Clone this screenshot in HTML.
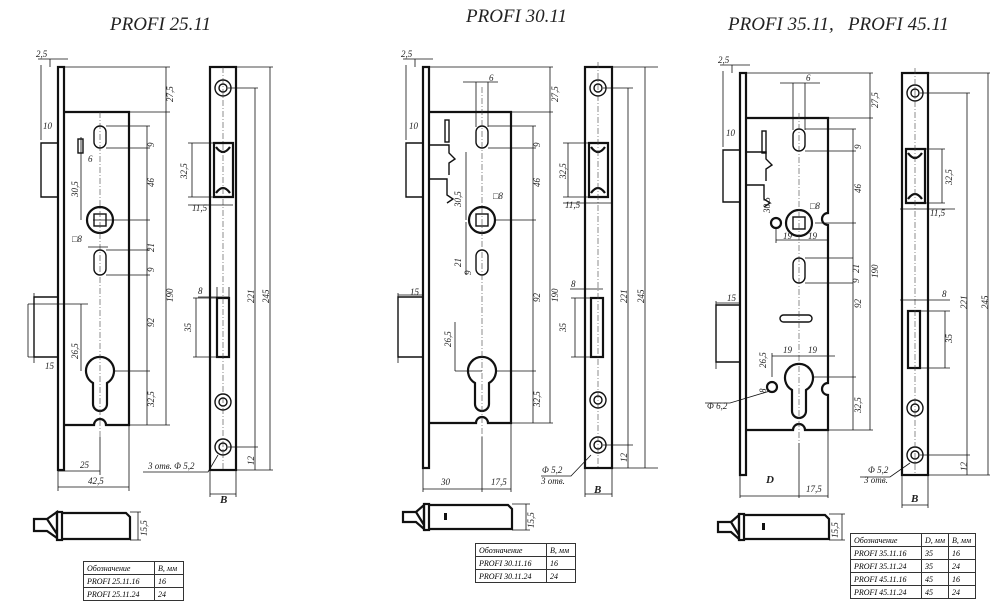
<!DOCTYPE html>
<html><head><meta charset="utf-8"><style>
html,body{margin:0;padding:0;background:#fff;}
svg{display:block;font-family:"Liberation Serif","Noto Serif CJK SC",serif;font-style:italic;}
.t{stroke:#111;stroke-width:.8;fill:none}
.k{stroke:#111;stroke-width:2.2;fill:none}
.m{stroke:#111;stroke-width:1.4;fill:none}
.c{stroke:#444;stroke-width:.6;stroke-dasharray:6 2 1 2;fill:none}
text{fill:#222;font-size:9px}
.ti{font-size:19px;fill:#222}
td{border:1px solid #333;padding:0 3px;height:12px}
</style></head><body>
<svg width="1000" height="607" viewBox="0 0 1000 607">
<text class="ti" x="110" y="30">PROFI 25.11</text>
<text class="ti" x="466" y="22">PROFI 30.11</text>
<text class="ti" x="728" y="30">PROFI 35.11,&#160;&#160;&#160;PROFI 45.11</text>

<!-- LOCK 1 -->
<g transform="translate(58,67)">
<rect class="k" x="0" y="0" width="6" height="403"/>
<path class="k" d="M6,45 H71 V358 H48 A6,6 0 0 0 36,358 H6"/>
<path class="m" d="M0,76 H-17 V130 H0 M-17,76 H-8 M-17,130 H-8"/>
<path class="m" d="M0,230 H-24 V290 H0"/>
<rect class="m" x="36" y="59" width="12" height="22" rx="6"/>
<rect class="m" x="20" y="72" width="5" height="14"/>
<circle class="k" cx="42" cy="153" r="13"/><rect class="m" x="36" y="147" width="12" height="12"/>
<rect class="m" x="36" y="183" width="12" height="25" rx="6"/>
<path class="k" d="M35,316 A14,14 0 1 1 49,316 L49,337 A7,7 0 0 1 35,337 Z"/>
<line class="c" x1="42" y1="45" x2="42" y2="370"/>
<path class="t" d="M48,59 H92 M48,81 H92 M35,153 H92 M48,183 H92 M48,208 H92 M56,304 H92 M71,358 H112 M6,0 H112 M71,45 H112 M89,59 V358 M108,0 V358"/>
<path class="t" d="M-17,73 V-2 M-24,226 V296 M-30,290 H0 M-30,237 H30 M-30,237 V290"/>
<path class="t" d="M-8,0 V-8 M6,-8 H-20 M0,-8 H10"/>
<text x="-22" y="-10">2,5</text>
<text x="-15" y="62">10</text>
<text x="-13" y="302">15</text>
<text x="22" y="401">25</text><text x="30" y="417">42,5</text>
<path class="t" d="M0,403 V424 M42,370 V408 M71,358 V424 M0,404 H42 M0,420 H71"/>
<path class="t" d="M23,70 V153 M23,237 V304 M30,180 H50"/>
<text x="14" y="175">□8</text>
<text x="30" y="95">6</text>
<g transform="rotate(-90)">
<text x="-80" y="96">9</text><text x="-120" y="96">46</text><text x="-185" y="96">21</text>
<text x="-205" y="96">9</text><text x="-260" y="96">92</text><text x="-340" y="96">32,5</text>
<text x="-235" y="115">190</text><text x="-35" y="115">27,5</text>
<text x="-130" y="20">30,5</text><text x="-292" y="20">26,5</text>
</g>
<!-- strike -->
<rect class="k" x="152" y="0" width="26" height="403"/>
<circle class="m" cx="165" cy="21" r="8"/><circle class="m" cx="165" cy="21" r="4"/>
<circle class="m" cx="165" cy="335" r="8"/><circle class="m" cx="165" cy="335" r="4"/>
<circle class="m" cx="165" cy="380" r="8"/><circle class="m" cx="165" cy="380" r="4"/>
<path class="k" d="M156,76 H175 V130 H156 Z M158,80 Q165,90 172,80 M158,126 Q165,116 172,126"/>
<rect class="k" x="159" y="231" width="12" height="59"/>
<line class="c" x1="165" y1="0" x2="165" y2="403"/>
<path class="t" d="M178,0 H215 M170,21 H200 M170,380 H200 M178,403 H215 M197,21 V403 M212,0 V403 M130,76 H156 M130,130 H156 M134,76 V130 M130,138 H175 M140,230 H171 M135,231 H159 M135,290 H159 M138,231 V290 M159,220 V232 M171,220 V232 M152,403 V430 M178,403 V430 M152,427 H178"/>
<path class="t" d="M85,405 H150 L160,388"/>
<text x="90" y="402">3 отв. Φ 5,2</text>
<text x="162" y="436" style="font-weight:bold;font-size:11px">B</text>
<g transform="rotate(-90)">
<text x="-112" y="129">32,5</text><text x="-265" y="133">35</text>
<text x="-236" y="196">221</text><text x="-236" y="211">245</text><text x="-398" y="196">12</text>
</g>
<text x="134" y="144">11,5</text><text x="140" y="227">8</text>
</g>

<!-- LOCK 2 -->
<g transform="translate(423,67)">
<rect class="k" x="0" y="0" width="6" height="401"/>
<path class="k" d="M6,45 H88 V356 H65 A6,6 0 0 0 53,356 H6"/>
<path class="m" d="M0,76 H-17 V130 H0 M-17,76 H-8 M-17,130 H-8 M6,78 H26 V86 L32,92 L26,96 V108 M6,112 H24 V128 L30,132 L24,136"/>
<path class="m" d="M0,230 H-25 V290 H0"/>
<rect class="m" x="22" y="53" width="4" height="22"/>
<rect class="m" x="53" y="59" width="12" height="22" rx="6"/>
<circle class="k" cx="59" cy="153" r="13"/><rect class="m" x="53" y="147" width="12" height="12"/>
<rect class="m" x="53" y="183" width="12" height="25" rx="6"/>
<path class="k" d="M52,316 A14,14 0 1 1 66,316 L66,337 A7,7 0 0 1 52,337 Z"/>
<line class="c" x1="59" y1="20" x2="59" y2="370"/>
<path class="t" d="M65,59 H113 M65,81 H113 M72,153 H113 M73,304 H113 M88,356 H130 M6,0 H130 M88,45 H130 M110,59 V356 M127,0 V356 M53,15 V60 M65,15 V60 M40,15 H75"/>
<path class="t" d="M-17,73 V-2 M-25,226 V296 M-25,228 H0 M-8,0 V-8 M6,-8 H-20 M0,-8 H10"/>
<text x="-22" y="-10">2,5</text><text x="-14" y="62">10</text><text x="-13" y="228">15</text>
<path class="t" d="M0,401 V425 M59,370 V425 M88,356 V425 M0,422 H88"/>
<text x="18" y="418">30</text><text x="68" y="418">17,5</text>
<text x="66" y="14">6</text><text x="70" y="132">□8</text>
<g transform="rotate(-90)">
<text x="-80" y="117">9</text><text x="-120" y="117">46</text><text x="-235" y="117">92</text>
<text x="-340" y="117">32,5</text><text x="-235" y="135">190</text><text x="-35" y="135">27,5</text>
<text x="-140" y="38">30,5</text><text x="-200" y="38">21</text><text x="-208" y="48">9</text><text x="-280" y="28">26,5</text>
</g>
<path class="t" d="M43,85 V153 M43,155 V208 M32,304 H59 M32,255 V304"/>
<!-- strike -->
<rect class="k" x="162" y="0" width="27" height="401"/>
<circle class="m" cx="175" cy="21" r="8"/><circle class="m" cx="175" cy="21" r="4"/>
<circle class="m" cx="175" cy="333" r="8"/><circle class="m" cx="175" cy="333" r="4"/>
<circle class="m" cx="175" cy="378" r="8"/><circle class="m" cx="175" cy="378" r="4"/>
<path class="k" d="M166,76 H185 V130 H166 Z M168,80 Q175,90 182,80 M168,126 Q175,116 182,126"/>
<rect class="k" x="168" y="231" width="12" height="59"/>
<line class="c" x1="175" y1="-5" x2="175" y2="401"/>
<path class="t" d="M189,0 H235 M180,21 H210 M180,378 H210 M189,401 H235 M205,21 V401 M222,0 V401 M140,76 H166 M140,130 H166 M145,76 V130 M140,136 H189 M147,222 H180 M148,231 H168 M148,290 H168 M152,231 V290 M162,401 V430 M189,401 V430 M162,427 H189"/>
<path class="t" d="M118,409 H148 L168,388"/>
<text x="119" y="406">Φ 5,2</text><text x="118" y="417">3 отв.</text>
<text x="171" y="426" style="font-weight:bold;font-size:11px">B</text>
<g transform="rotate(-90)">
<text x="-112" y="143">32,5</text><text x="-265" y="143">35</text>
<text x="-236" y="204">221</text><text x="-236" y="221">245</text><text x="-395" y="204">12</text>
</g>
<text x="142" y="141">11,5</text><text x="148" y="220">8</text>
</g>

<!-- LOCK 3 -->
<g transform="translate(740,73)">
<rect class="k" x="0" y="0" width="6" height="402"/>
<path class="k" d="M6,45 H88 V140 A5,5 0 0 0 88,152 V310 A5,5 0 0 0 88,322 V357 H65 A6,6 0 0 0 53,357 H6"/>
<path class="m" d="M0,77 H-17 V129 H0 M-17,77 H-8 M-17,129 H-8 M6,79 H26 V86 L32,92 L26,96 V108 M6,112 H24 V126 L30,130 L24,134"/>
<path class="m" d="M0,232 H-24 V289 H0"/>
<rect class="m" x="22" y="58" width="4" height="22"/>
<rect class="m" x="53" y="56" width="12" height="22" rx="6"/>
<circle class="k" cx="59" cy="150" r="13"/><rect class="m" x="53" y="144" width="12" height="12"/>
<circle class="k" cx="36" cy="150" r="5"/>
<rect class="m" x="53" y="185" width="12" height="25" rx="6"/>
<rect class="m" x="40" y="242" width="32" height="7" rx="3.5"/>
<path class="k" d="M52,317 A14,14 0 1 1 66,317 L66,338 A7,7 0 0 1 52,338 Z"/>
<circle class="k" cx="32" cy="314" r="5"/>
<line class="c" x1="59" y1="40" x2="59" y2="370"/>
<path class="t" d="M65,56 H116 M65,78 H116 M75,150 H116 M65,185 H113 M65,210 H113 M73,304 H116 M88,357 H133 M6,0 H133 M88,45 H133 M113,56 V357 M130,0 V357 M53,10 V57 M65,10 V57 M40,10 H80 M36,155 V170 M88,155 V170 M36,167 H88 M32,280 V304 M88,280 V304 M32,283 H95"/>
<path class="t" d="M-17,74 V-2 M-24,228 V296 M-24,230 H0 M-8,0 V-8 M6,-8 H-20 M0,-8 H10 M-35,330 H-10 L30,318"/>
<text x="-22" y="-10">2,5</text><text x="-14" y="63">10</text><text x="-13" y="228">15</text>
<text x="-33" y="336">Φ 6,2</text>
<text x="43" y="166">19</text><text x="68" y="166">19</text>
<text x="43" y="280">19</text><text x="68" y="280">19</text>
<text x="66" y="8">6</text><text x="70" y="136">□8</text>
<path class="t" d="M0,402 V425 M59,370 V425 M88,357 V425 M0,423 H88"/>
<text x="26" y="410" style="font-weight:bold;font-size:11px">D</text><text x="66" y="419">17,5</text>
<g transform="rotate(-90)">
<text x="-76" y="121">9</text><text x="-120" y="121">46</text><text x="-200" y="119">21</text><text x="-210" y="119">9</text>
<text x="-235" y="121">92</text><text x="-340" y="121">32,5</text><text x="-205" y="138">190</text><text x="-35" y="138">27,5</text>
<text x="-140" y="30">30,5</text><text x="-295" y="26">26,5</text><text x="-320" y="26">8</text>
</g>
<!-- strike -->
<rect class="k" x="162" y="0" width="26" height="402"/>
<circle class="m" cx="175" cy="20" r="8"/><circle class="m" cx="175" cy="20" r="4"/>
<circle class="m" cx="175" cy="335" r="8"/><circle class="m" cx="175" cy="335" r="4"/>
<circle class="m" cx="175" cy="382" r="8"/><circle class="m" cx="175" cy="382" r="4"/>
<path class="k" d="M166,76 H185 V130 H166 Z M168,80 Q175,90 182,80 M168,126 Q175,116 182,126"/>
<rect class="k" x="168" y="238" width="12" height="57"/>
<line class="c" x1="175" y1="-5" x2="175" y2="402"/>
<path class="t" d="M188,0 H250 M180,20 H230 M180,382 H230 M188,402 H250 M227,20 V402 M248,0 V402 M185,76 H205 M185,130 H205 M202,76 V130 M160,136 H215 M160,227 H210 M180,238 H210 M180,295 H210 M205,238 V295 M162,402 V435 M188,402 V435 M162,432 H188"/>
<path class="t" d="M120,404 H150 L170,390"/>
<text x="128" y="400">Φ 5,2</text><text x="124" y="410">3 отв.</text>
<text x="171" y="429" style="font-weight:bold;font-size:11px">B</text>
<g transform="rotate(-90)">
<text x="-112" y="212">32,5</text><text x="-270" y="212">35</text>
<text x="-236" y="227">221</text><text x="-236" y="248">245</text><text x="-398" y="227">12</text>
</g>
<text x="190" y="143">11,5</text><text x="202" y="224">8</text>
</g>

<!-- bottom views -->
<g>
<path class="k" d="M34,519 H47 L57,512 V538 L47,531 H34 Z M47,519 L57,534"/>
<rect class="k" x="57" y="512" width="5" height="28"/>
<path class="k" d="M62,513 H126 L130,517 V539 H62"/>
<path class="t" d="M130,512 H141 M130,540 H141 M138,512 V540"/>
<g transform="rotate(-90)"><text x="-536" y="147">15,5</text></g>
</g>
<g>
<path class="k" d="M403,512 H416 L424,505 V529 L416,522 H403 Z M416,512 L424,525"/>
<rect class="k" x="424" y="504" width="5" height="26"/>
<path class="k" d="M429,505 H508 L512,509 V529 H429"/>
<rect x="444" y="513" width="3" height="7" fill="#111"/>
<path class="t" d="M512,504 H530 M512,530 H530 M526,504 V530"/>
<g transform="rotate(-90)"><text x="-528" y="534">15,5</text></g>
</g>
<g>
<path class="k" d="M718,522 H731 L739,515 V539 L731,532 H718 Z M731,522 L739,535"/>
<rect class="k" x="739" y="514" width="5" height="26"/>
<path class="k" d="M744,515 H825 L829,519 V539 H744"/>
<rect x="762" y="523" width="3" height="7" fill="#111"/>
<path class="t" d="M829,514 H845 M829,540 H845 M842,514 V540"/>
<g transform="rotate(-90)"><text x="-538" y="838">15,5</text></g>
</g>
</svg>

<div style="position:absolute;left:83px;top:561px;font:italic 8px 'Liberation Serif',serif">
<table style="border-collapse:collapse;border:1.5px solid #333"><tr><td style="width:64px">Обозначение</td><td style="width:22px">B, мм</td></tr><tr><td>PROFI 25.11.16</td><td>16</td></tr><tr><td>PROFI 25.11.24</td><td>24</td></tr></table></div>
<div style="position:absolute;left:475px;top:543px;font:italic 8px 'Liberation Serif',serif">
<table style="border-collapse:collapse;border:1.5px solid #333"><tr><td style="width:64px">Обозначение</td><td style="width:22px">B, мм</td></tr><tr><td>PROFI 30.11.16</td><td>16</td></tr><tr><td>PROFI 30.11.24</td><td>24</td></tr></table></div>
<div style="position:absolute;left:850px;top:533px;font:italic 8px 'Liberation Serif',serif">
<table style="border-collapse:collapse;border:1.5px solid #333"><tr><td style="width:64px">Обозначение</td><td style="width:20px">D, мм</td><td style="width:20px">B, мм</td></tr><tr><td>PROFI 35.11.16</td><td>35</td><td>16</td></tr><tr><td>PROFI 35.11.24</td><td>35</td><td>24</td></tr><tr><td>PROFI 45.11.16</td><td>45</td><td>16</td></tr><tr><td>PROFI 45.11.24</td><td>45</td><td>24</td></tr></table></div>
</body></html>
